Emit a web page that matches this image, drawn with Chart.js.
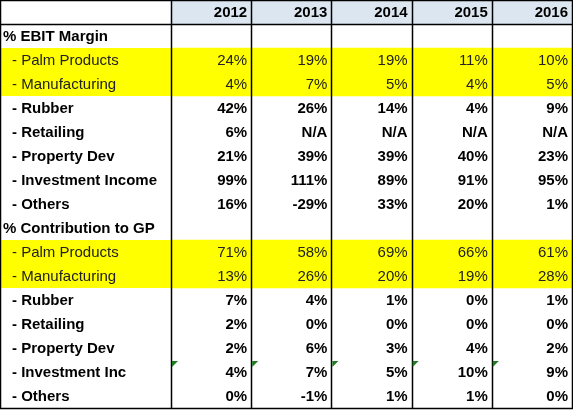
<!DOCTYPE html>
<html><head><meta charset="utf-8">
<script src="https://cdn.jsdelivr.net/npm/chart.js@4"></script>
<style>html,body{margin:0;padding:0;background:#fff}#w{width:573px;height:410px}</style>
</head><body><div id="w"><canvas id="c"></canvas></div>
<script>
const years = ['2012','2013','2014','2015','2016'];
const rowLabels = ['', '% EBIT Margin', ' - Palm Products', ' - Manufacturing', ' - Rubber', ' - Retailing', ' - Property Dev', ' - Investment Income', ' - Others',
  '% Contribution to GP', ' - Palm Products', ' - Manufacturing', ' - Rubber', ' - Retailing', ' - Property Dev', ' - Investment Inc', ' - Others'];
const ebitPalm = ['24%','19%','19%','11%','10%'];
const ebitManuf = ['4%','7%','5%','4%','5%'];
const ebitRubber = ['42%','26%','14%','4%','9%'];
const ebitRetail = ['6%','N/A','N/A','N/A','N/A'];
const ebitProperty = ['21%','39%','39%','40%','23%'];
const ebitInvest = ['99%','111%','89%','91%','95%'];
const ebitOthers = ['16%','-29%','33%','20%','1%'];
const gpPalm = ['71%','58%','69%','66%','61%'];
const gpManuf = ['13%','26%','20%','19%','28%'];
const gpRubber = ['7%','4%','1%','0%','1%'];
const gpRetail = ['2%','0%','0%','0%','0%'];
const gpProperty = ['2%','6%','3%','4%','2%'];
const gpInvest = ['4%','7%','5%','10%','9%'];
const gpOthers = ['0%','-1%','1%','1%','0%'];
const highlightRows = [2,3,10,11];
const sectionRows = [1,9];
const rowValues = [years,null,ebitPalm,ebitManuf,ebitRubber,ebitRetail,ebitProperty,ebitInvest,ebitOthers,
  null,gpPalm,gpManuf,gpRubber,gpRetail,gpProperty,gpInvest,gpOthers];
const noteRow = 15;

const FONT = '"Liberation Sans", Arial, sans-serif';
const tablePlugin = {
  id: 'table',
  beforeDatasetsDraw(chart) {
    const {ctx, scales:{x,y}, chartArea:ca} = chart;
    const rh = y.getPixelForValue(1)-y.getPixelForValue(0);
    const rowTop = i => y.getPixelForValue(i) - rh/2;
    ctx.save();
    ctx.fillStyle = '#dce6f1';
    ctx.fillRect(x.getPixelForValue(-0.5), rowTop(0), x.getPixelForValue(4.5)-x.getPixelForValue(-0.5), rh);
    highlightRows.forEach(r => { ctx.fillStyle = '#ffff00'; ctx.fillRect(0, rowTop(r), ca.left, rh); });
    ctx.restore();
  },
  afterDatasetsDraw(chart) {
    const {ctx, scales:{x,y}} = chart;
    const rh = y.getPixelForValue(1)-y.getPixelForValue(0);
    const rowTop = i => y.getPixelForValue(i) - rh/2;
    ctx.save();
    ctx.strokeStyle = '#000'; ctx.lineWidth = 1.5;
    const xs = [0].concat([-0.5,0.5,1.5,2.5,3.5,4.5].map(v => x.getPixelForValue(v)));
    const top = rowTop(0), bot = rowTop(rowLabels.length);
    xs.forEach(px => { ctx.beginPath(); ctx.moveTo(Math.round(px)+0.5, top); ctx.lineTo(Math.round(px)+0.5, bot); ctx.stroke(); });
    [top, rowTop(1), bot].forEach(py => { ctx.beginPath(); ctx.moveTo(0, Math.round(py)+0.5); ctx.lineTo(xs[xs.length-1]+1, Math.round(py)+0.5); ctx.stroke(); });
    ctx.textBaseline = 'middle';
    rowLabels.forEach((lab, r) => {
      const cy = y.getPixelForValue(r) + 1;
      const hl = highlightRows.includes(r);
      ctx.fillStyle = hl ? '#222222' : '#000';
      ctx.font = (hl ? '' : 'bold ') + '15px ' + FONT;
      ctx.textAlign = 'left';
      if (sectionRows.includes(r)) ctx.fillText(lab, 3, cy);
      else if (lab) ctx.fillText(lab.trim(), 12, cy);
      const vals = rowValues[r];
      if (vals) {
        ctx.textAlign = 'right';
        vals.forEach((v, c) => ctx.fillText(v, x.getPixelForValue(c + 0.5) - 4, cy));
      }
      if (r === noteRow) {
        ctx.fillStyle = '#1e7b1e';
        years.forEach((_, c) => {
          const px = x.getPixelForValue(c - 0.5) + 1, py = rowTop(r) + 1;
          ctx.beginPath(); ctx.moveTo(px, py); ctx.lineTo(px + 6, py); ctx.lineTo(px, py + 6); ctx.closePath(); ctx.fill();
        });
      }
    });
    ctx.restore();
  }
};

const hlData = rowLabels.map((_, r) => highlightRows.includes(r) ? [-0.5, 4.5] : null);
new Chart(document.getElementById('c'), {
  type: 'bar',
  data: { labels: rowLabels.map((_, i) => i), datasets: [{ data: hlData, backgroundColor: '#ffff00', barPercentage: 1, categoryPercentage: 1, borderWidth: 0 }] },
  options: {
    indexAxis: 'y', responsive: true, maintainAspectRatio: false, animation: false,
    layout: { padding: { left: 171, right: 1, top: 0, bottom: 2 } },
    plugins: { legend: { display: false }, tooltip: { enabled: false } },
    scales: {
      x: { type: 'linear', min: -0.5, max: 4.5, display: false },
      y: { display: false, offset: true }
    }
  },
  plugins: [tablePlugin]
});
</script></body></html>
